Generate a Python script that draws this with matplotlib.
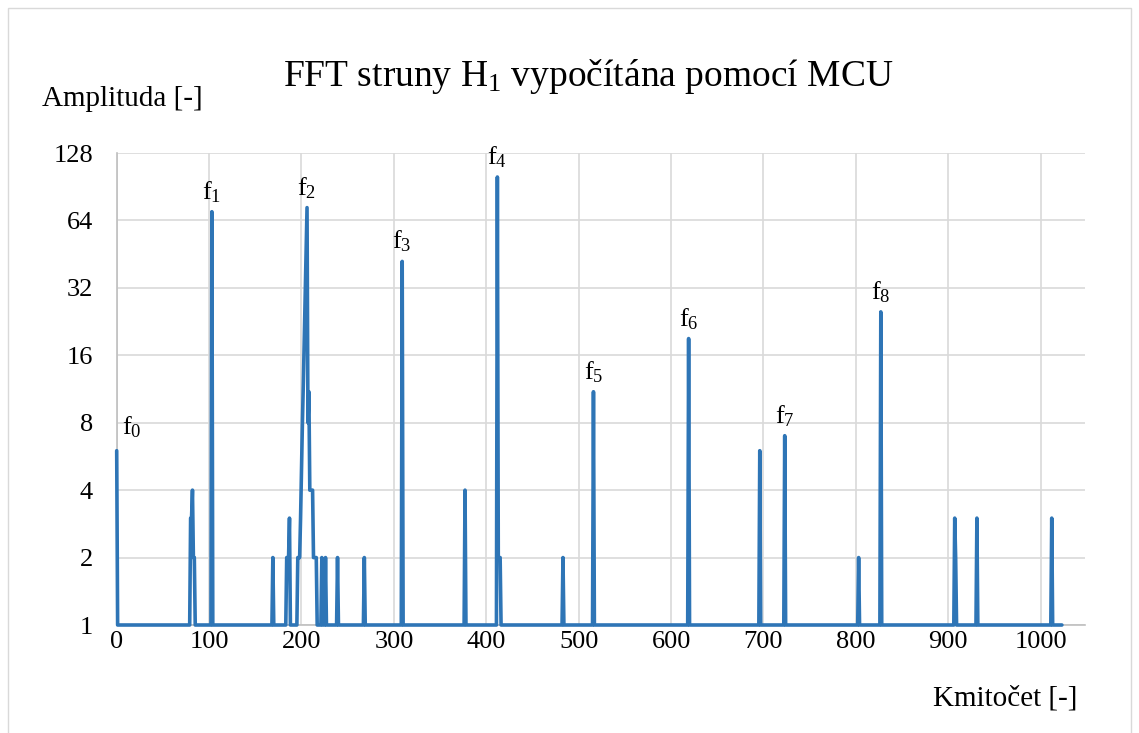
import numpy as np
import matplotlib
matplotlib.use("Agg")
import matplotlib.pyplot as plt
from matplotlib.ticker import FixedLocator, FixedFormatter, NullLocator
from matplotlib.patches import Rectangle

# ---------------- data ----------------
n_bins = 1024              # Kmitočet 0 .. 1023
baseline = 1               # amplitude outside the peaks
spike_bins = [0, 80, 81, 82, 83, 84, 103, 169, 184, 185, 186, 187,
              196, 197, 198, 199, 200, 201, 202, 203, 204, 205, 206,
              207, 208, 209, 210, 211, 212, 213, 214, 215, 216,
              222, 226, 239, 268, 309, 377, 412, 413, 414, 415,
              483, 516, 619, 696, 723, 803, 827, 907, 908, 931, 1012]
spike_vals = [6, 3, 3, 4, 2, 2, 70, 2, 2, 2, 2, 3,
              2, 2, 2, 3, 5, 8, 12, 19, 29, 46, 73,
              8, 11, 4, 4, 4, 4, 2, 2, 2, 2,
              2, 2, 2, 2, 42, 4, 100, 2, 2, 2,
              2, 11, 19, 6, 7, 2, 25, 3, 2, 3, 3]
peak_bins = [0, 103, 206, 309, 412, 516, 619, 723, 827]
peak_labels = ["f$_\\mathregular{0}$", "f$_\\mathregular{1}$", "f$_\\mathregular{2}$",
               "f$_\\mathregular{3}$", "f$_\\mathregular{4}$", "f$_\\mathregular{5}$",
               "f$_\\mathregular{6}$", "f$_\\mathregular{7}$", "f$_\\mathregular{8}$"]
y_ticks = [1, 2, 4, 8, 16, 32, 64, 128]
y_tick_labels = ["1", "2", "4", "8", "16", "32", "64", "128"]
x_ticks = [0, 100, 200, 300, 400, 500, 600, 700, 800, 900, 1000]
title = "FFT struny H$_\\mathregular{1}$ vypočítána pomocí MCU"
ylabel = "Amplituda [-]"
xlabel = "Kmitočet [-]"

freq = np.arange(n_bins)
amp = np.full(n_bins, float(baseline))
amp[spike_bins] = spike_vals

# ---------------- style ----------------
plt.rcParams["font.family"] = ["Liberation Serif", "DejaVu Serif"]
plt.rcParams["mathtext.fontset"] = "custom"
plt.rcParams["mathtext.rm"] = "Liberation Serif"
plt.rcParams["mathtext.it"] = "Liberation Serif:italic"
plt.rcParams["mathtext.bf"] = "Liberation Serif:bold"

W, H = 1139, 733
fig = plt.figure(figsize=(W / 100, H / 100), dpi=100)
fig.patch.set_facecolor("white")

# chart border (light grey)
fig.patches.append(Rectangle((8 / W, -0.05), (1131 - 8) / W, (H - 8) / H + 0.05,
                             transform=fig.transFigure, fill=False,
                             edgecolor="#D9D9D9", linewidth=1.0))

left, right = 116.7 / W, 1085 / W
bottom, top = (H - 625) / H, (H - 153) / H
ax = fig.add_axes([left, bottom, right - left, top - bottom])

line_color = "#2E75B6"
ax.plot(freq, amp, color=line_color, linewidth=2.6, solid_joinstyle="round",
        solid_capstyle="round", zorder=3, clip_on=False)

ax.set_yscale("log", base=2)
ax.set_ylim(1, 128)
ax.set_xlim(0, 1048)
ax.yaxis.set_major_locator(FixedLocator(y_ticks))
ax.yaxis.set_major_formatter(FixedFormatter(y_tick_labels))
ax.yaxis.set_minor_locator(NullLocator())
ax.set_xticks(x_ticks)
ax.set_xticklabels([str(t) for t in x_ticks])

ax.grid(True, color="#D9D9D9", linewidth=1.2, zorder=0)
ax.set_axisbelow(True)
for s in ["top", "right"]:
    ax.spines[s].set_visible(False)
ax.spines["left"].set_color("#BFBFBF")
ax.spines["bottom"].set_color("#BFBFBF")
ax.spines["left"].set_linewidth(1.2)
ax.spines["bottom"].set_linewidth(1.2)
ax.tick_params(axis="both", length=0, labelsize=19, colors="#000000")
ax.tick_params(axis="y", pad=17)
ax.tick_params(axis="x", pad=4)

# peak labels
for b, lab in zip(peak_bins, peak_labels):
    if b == 0:
        ax.annotate(lab, xy=(freq[b], amp[b]), xytext=(4, 8), textcoords="offset points",
                    ha="left", va="bottom", fontsize=19)
    else:
        ax.annotate(lab, xy=(freq[b], amp[b]), xytext=(0, 5), textcoords="offset points",
                    ha="center", va="bottom", fontsize=19)

fig.text(588 / W, 1 - 86 / H, title, ha="center", va="baseline", fontsize=27)
fig.text(42 / W, 1 - 106 / H, ylabel, ha="left", va="baseline", fontsize=21)
fig.text(1077 / W, 1 - 705 / H, xlabel, ha="right", va="baseline", fontsize=21)

fig.savefig("out.png", dpi=100, facecolor="white")
